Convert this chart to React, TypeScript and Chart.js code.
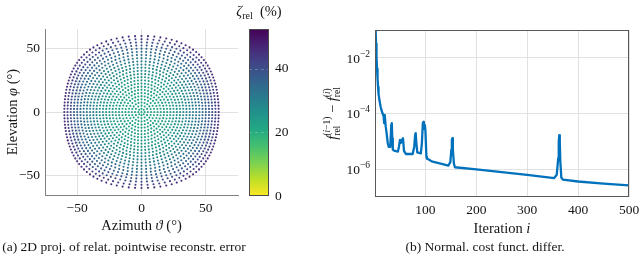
import React, { useEffect, useRef } from 'react';
import { Chart, registerables } from 'chart.js';

Chart.register(...registerables);

const SERIF = '"Liberation Serif", "DejaVu Serif", serif';
const TXT = '#151515';

// ---------- (a) sampling rings (polar angle around look direction), point count and error per ring
const ringPolarDeg = [0, 2.5, 5, 7.5, 10, 12.5, 15, 17.5, 20, 22.5, 25, 27.5, 30, 32.5, 35, 37.5, 40, 42.5, 45, 47.5, 50, 52.5, 55, 57.5, 60];
const ringPointCount = [1, 8, 12, 20, 24, 32, 36, 44, 48, 56, 60, 68, 72, 76, 84, 88, 92, 96, 100, 108, 112, 116, 120, 120, 124];
const ringErrorPct = [22.0, 22.0, 22.1, 22.2, 22.4, 22.6, 22.9, 23.2, 23.6, 24.1, 24.7, 25.4, 26.2, 27.1, 28.1, 29.2, 30.4, 31.7, 33.1, 34.6, 36.3, 38.2, 40.4, 43.0, 46.0];
const azimuthTicks = [-50, 0, 50];
const elevationTicks = [-50, 0, 50];
const colorbarTicks = [0, 20, 40];
const colorbarMax = 52.5;

// ---------- (b) normalized cost function difference per iteration
const iterations = [1, 2, 3, 4, 5, 6, 7, 8, 10, 12, 14, 16, 18, 19, 20, 22, 24, 26, 28, 31, 33, 34, 35, 36, 40, 46, 48, 50, 52, 54, 56, 58, 62, 75, 78, 80, 81, 82, 84, 91, 93, 95, 96, 97, 98, 99, 100, 102, 103, 114, 130, 145, 149, 151, 152, 153, 154, 156, 158, 200, 250, 300, 353, 358, 361, 362, 363, 364, 365, 367, 370, 400, 450, 500];
const costDiff = [1.0, 0.16, 0.032, 0.01, 4.0e-3, 1.8e-3, 8.9e-4, 5.0e-4, 2.8e-4, 1.8e-4, 1.26e-4, 1.0e-4, 7.9e-5, 4.5e-5, 8.9e-5, 3.5e-5, 1.8e-5, 8.9e-6, 6.3e-6, 6.3e-6, 4.0e-5, 4.5e-5, 1.26e-5, 5.0e-6, 4.5e-6, 4.3e-6, 6.3e-6, 1.12e-5, 8.9e-6, 1.12e-5, 1.29e-5, 4.5e-6, 3.5e-6, 3.5e-6, 6.3e-6, 1.8e-5, 1.95e-5, 1.0e-5, 4.0e-6, 3.7e-6, 7.9e-6, 4.5e-5, 5.0e-5, 3.5e-5, 2.8e-5, 3.8e-5, 2.5e-5, 2.8e-6, 2.4e-6, 1.86e-6, 1.58e-6, 1.35e-6, 1.78e-6, 5.0e-6, 1.12e-5, 1.29e-5, 5.0e-6, 1.58e-6, 1.17e-6, 9.8e-7, 7.8e-7, 6.2e-7, 4.8e-7, 6.3e-7, 2.5e-6, 1.0e-5, 1.66e-5, 1.0e-5, 2.0e-6, 5.0e-7, 4.2e-7, 3.6e-7, 3.0e-7, 2.6e-7];
const iterationTicks = [100, 200, 300, 400, 500];
const costDiffTicks = [1e-6, 1e-4, 1e-2];

const viridis = ['#440154', '#482475', '#414487', '#355f8d', '#2a788e', '#21918c', '#22a884', '#44bf70', '#7ad151', '#bddf26', '#fde725'];

function hexToRgb(h: string) {
  return [parseInt(h.slice(1, 3), 16), parseInt(h.slice(3, 5), 16), parseInt(h.slice(5, 7), 16)];
}
function viridisAt(t: number) {
  const tt = Math.max(0, Math.min(1, t)) * (viridis.length - 1);
  const i = Math.min(Math.floor(tt), viridis.length - 2);
  const f = tt - i;
  const a = hexToRgb(viridis[i]);
  const b = hexToRgb(viridis[i + 1]);
  const c = a.map((v, k) => Math.round(v + (b[k] - v) * f));
  return `rgb(${c[0]},${c[1]},${c[2]})`;
}
// reversed viridis: 0 -> yellow, max -> purple
function errColor(v: number) {
  return viridisAt(1 - v / colorbarMax);
}

type Run = { t: string; f: string; dy?: number };
type Piece = Run | { top: Run[]; bottom: Run[] };
const fnt = (size: number, italic = false) => `${italic ? 'italic ' : ''}${size}px ${SERIF}`;
const TS = 14.5; // title size

function runsWidth(ctx: CanvasRenderingContext2D, runs: Run[]) {
  let w = 0;
  for (const r of runs) {
    ctx.font = r.f;
    w += ctx.measureText(r.t).width;
  }
  return w;
}
function pieceWidth(ctx: CanvasRenderingContext2D, p: Piece) {
  if ('top' in p) return Math.max(runsWidth(ctx, p.top), runsWidth(ctx, p.bottom));
  return runsWidth(ctx, [p]);
}
function drawRuns(ctx: CanvasRenderingContext2D, runs: Run[], x: number, y: number) {
  for (const r of runs) {
    ctx.font = r.f;
    ctx.fillText(r.t, x, y + (r.dy || 0));
    x += ctx.measureText(r.t).width;
  }
}
function drawRich(ctx: CanvasRenderingContext2D, pieces: Piece[], x: number, y: number, align: 'left' | 'center' | 'right', rot = 0, shift = 4.8) {
  ctx.save();
  ctx.translate(x, y);
  if (rot) ctx.rotate(rot);
  ctx.fillStyle = TXT;
  ctx.textAlign = 'left';
  ctx.textBaseline = 'alphabetic';
  const ws = pieces.map((p) => pieceWidth(ctx, p));
  const total = ws.reduce((a, b) => a + b, 0);
  let cx = align === 'center' ? -total / 2 : align === 'right' ? -total : 0;
  pieces.forEach((p, i) => {
    if ('top' in p) {
      drawRuns(ctx, p.top, cx, shift);
      drawRuns(ctx, p.bottom, cx, shift);
    } else drawRuns(ctx, [p], cx, shift);
    cx += ws[i];
  });
  ctx.restore();
}

const minusFmt = (v: number) => (v < 0 ? '\u2212' + Math.abs(v) : String(v));
const tickFont = { family: SERIF, size: 13.5 };

export default function App() {
  const leftRef = useRef<HTMLCanvasElement>(null);
  const cbRef = useRef<HTMLCanvasElement>(null);
  const rightRef = useRef<HTMLCanvasElement>(null);

  useEffect(() => {
    const charts: Chart[] = [];

    // build sampling points
    const pts: { x: number; y: number }[] = [];
    const cols: string[] = [];
    ringPolarDeg.forEach((th, k) => {
      const n = ringPointCount[k];
      const thr = (th * Math.PI) / 180;
      for (let j = 0; j < n; j++) {
        const a = (2 * Math.PI * j) / n;
        const vx = Math.cos(thr);
        const vy = Math.sin(thr) * Math.cos(a);
        const vz = Math.sin(thr) * Math.sin(a);
        pts.push({ x: (Math.atan2(vy, vx) * 180) / Math.PI, y: (Math.asin(vz) * 180) / Math.PI });
        cols.push(errColor(ringErrorPct[k]));
      }
    });

    const leftTitles = {
      id: 'leftTitles',
      afterDraw(chart: any) {
        const { ctx, chartArea: ca } = chart;
        drawRich(ctx, [
          { t: 'Azimuth ', f: fnt(TS) },
          { t: '\u03D1', f: fnt(TS, true) },
          { t: ' (\u00B0)', f: fnt(TS) },
        ], (ca.left + ca.right) / 2, ca.bottom + 30.5, 'center');
        drawRich(ctx, [
          { t: 'Elevation ', f: fnt(TS) },
          { t: '\u03C6', f: fnt(TS, true) },
          { t: ' (\u00B0)', f: fnt(TS) },
        ], ca.left - 33, (ca.top + ca.bottom) / 2, 'center', -Math.PI / 2);
      },
    };

    if (leftRef.current) {
      charts.push(
        new Chart(leftRef.current, {
          type: 'scatter',
          data: {
            datasets: [
              {
                data: pts,
                pointBackgroundColor: cols,
                pointBorderWidth: 0,
                pointRadius: 1.05,
                pointHoverRadius: 1.05,
              },
            ],
          },
          options: {
            responsive: false,
            animation: false,
            events: [],
            layout: { padding: { left: 0, right: 7, top: 29, bottom: 0 } },
            plugins: { legend: { display: false }, tooltip: { enabled: false } },
            scales: {
              x: {
                type: 'linear',
                min: -75,
                max: 75,
                afterBuildTicks: (s: any) => {
                  s.ticks = azimuthTicks.map((v) => ({ value: v }));
                },
                afterFit: (s: any) => {
                  s.height = 66;
                  s.paddingLeft = 0;
                  s.paddingRight = 0;
                },
                grid: { color: '#dedede', lineWidth: 0.9, drawTicks: false },
                border: { color: '#808080', width: 1 },
                ticks: { padding: 5, color: TXT, font: tickFont, callback: (v: any) => minusFmt(Number(v)) },
              },
              y: {
                type: 'linear',
                min: -65.5,
                max: 65.5,
                afterBuildTicks: (s: any) => {
                  s.ticks = elevationTicks.map((v) => ({ value: v }));
                },
                afterFit: (s: any) => {
                  s.width = 45;
                  s.paddingTop = 0;
                  s.paddingBottom = 0;
                },
                grid: { color: '#dedede', lineWidth: 0.9, drawTicks: false },
                border: { color: '#808080', width: 1 },
                ticks: { padding: 5, color: TXT, font: tickFont, callback: (v: any) => minusFmt(Number(v)) },
              },
            },
          },
          plugins: [leftTitles],
        } as any)
      );
    }

    const cbPlugin = {
      id: 'cbPlugin',
      beforeDatasetsDraw(chart: any) {
        const { ctx, chartArea: ca } = chart;
        const ys = chart.scales.y;
        const y0 = ys.getPixelForValue(0);
        const y1 = ys.getPixelForValue(colorbarMax);
        const g = ctx.createLinearGradient(0, y0, 0, y1);
        for (let i = 0; i <= 20; i++) {
          const v = (colorbarMax * i) / 20;
          g.addColorStop(i / 20, errColor(v));
        }
        ctx.save();
        ctx.fillStyle = g;
        ctx.fillRect(ca.left, ca.top, ca.right - ca.left, ca.bottom - ca.top);
        ctx.strokeStyle = 'rgba(230,230,230,0.35)';
        ctx.lineWidth = 0.8;
        ctx.setLineDash([3, 3]);
        for (const v of colorbarTicks.slice(1)) {
          const y = Math.round(ys.getPixelForValue(v)) + 0.5;
          ctx.beginPath();
          ctx.moveTo(ca.left, y);
          ctx.lineTo(ca.right, y);
          ctx.stroke();
        }
        ctx.setLineDash([]);
        ctx.strokeStyle = '#4a4a4a';
        ctx.lineWidth = 1;
        ctx.strokeRect(Math.round(ca.left) + 0.5, Math.round(ca.top) + 0.5, Math.round(ca.right - ca.left) - 1, Math.round(ca.bottom - ca.top) - 1);
        ctx.restore();
        drawRich(ctx, [
          { t: '\u03B6', f: fnt(TS, true) },
          { t: 'rel', f: fnt(10), dy: 3 },
          { t: '  (%)', f: fnt(TS) },
        ], (ca.left + ca.right) / 2, 11, 'center');
      },
    };

    if (cbRef.current) {
      charts.push(
        new Chart(cbRef.current, {
          type: 'scatter',
          data: { datasets: [{ data: [] }] },
          options: {
            responsive: false,
            animation: false,
            events: [],
            layout: { padding: { left: 21, right: 0, top: 29, bottom: 65 } },
            plugins: { legend: { display: false }, tooltip: { enabled: false } },
            scales: {
              x: { type: 'linear', display: false, min: 0, max: 1 },
              y: {
                type: 'linear',
                position: 'right',
                min: 0,
                max: colorbarMax,
                afterBuildTicks: (s: any) => {
                  s.ticks = colorbarTicks.map((v) => ({ value: v }));
                },
                afterFit: (s: any) => {
                  s.width = 51;
                  s.paddingTop = 0;
                  s.paddingBottom = 0;
                },
                grid: { display: false, drawTicks: false },
                border: { display: false },
                ticks: { padding: 6, color: TXT, font: tickFont },
              },
            },
          },
          plugins: [cbPlugin],
        } as any)
      );
    }

    const rightPlugin = {
      id: 'rightPlugin',
      afterDraw(chart: any) {
        const { ctx, chartArea: ca } = chart;
        const ys = chart.scales.y;
        ctx.save();
        ctx.strokeStyle = '#595959';
        ctx.lineWidth = 1;
        ctx.strokeRect(Math.round(ca.left) + 0.5, Math.round(ca.top) + 0.5, Math.round(ca.right - ca.left) - 1, Math.round(ca.bottom - ca.top) - 1);
        ctx.restore();
        for (const v of costDiffTicks) {
          const e = Math.round(Math.log10(v));
          drawRich(ctx, [
            { t: '10', f: fnt(13.5) },
            { t: (e < 0 ? '\u2212' : '') + Math.abs(e), f: fnt(9.5), dy: -6 },
          ], ca.left - 5, ys.getPixelForValue(v), 'right');
        }
        drawRich(ctx, [
          { t: 'Iteration ', f: fnt(TS) },
          { t: 'i', f: fnt(TS, true) },
        ], (ca.left + ca.right) / 2, ca.bottom + 31, 'center');
        drawRich(ctx, [
          { t: 'f', f: fnt(TS, true) },
          {
            top: [
              { t: '(', f: fnt(9.5), dy: -6.5 },
              { t: 'i', f: fnt(9.5, true), dy: -6.5 },
              { t: '\u22121)', f: fnt(9.5), dy: -6.5 },
            ],
            bottom: [{ t: 'rel', f: fnt(9.5), dy: 3.5 }],
          },
          { t: ' \u2212 ', f: fnt(TS) },
          { t: 'f', f: fnt(TS, true) },
          {
            top: [
              { t: '(', f: fnt(9.5), dy: -6.5 },
              { t: 'i', f: fnt(9.5, true), dy: -6.5 },
              { t: ')', f: fnt(9.5), dy: -6.5 },
            ],
            bottom: [{ t: 'rel', f: fnt(9.5), dy: 3.5 }],
          },
        ], ca.left - 43, (ca.top + ca.bottom) / 2, 'center', -Math.PI / 2);
      },
    };

    if (rightRef.current) {
      charts.push(
        new Chart(rightRef.current, {
          type: 'line',
          data: {
            datasets: [
              {
                data: iterations.map((x, i) => ({ x, y: costDiff[i] })),
                borderColor: '#0072bd',
                borderWidth: 2.3,
                pointRadius: 0,
                tension: 0,
                fill: false,
                clip: 0,
                borderJoinStyle: 'round',
              },
            ],
          },
          options: {
            responsive: false,
            animation: false,
            events: [],
            layout: { padding: { left: 0, right: 11, top: 30, bottom: 0 } },
            plugins: { legend: { display: false }, tooltip: { enabled: false } },
            scales: {
              x: {
                type: 'linear',
                min: 1,
                max: 500,
                afterBuildTicks: (s: any) => {
                  s.ticks = iterationTicks.map((v) => ({ value: v }));
                },
                afterFit: (s: any) => {
                  s.height = 64;
                  s.paddingLeft = 0;
                  s.paddingRight = 0;
                },
                grid: { color: '#dedede', lineWidth: 0.9, drawTicks: false },
                border: { display: false },
                ticks: { padding: 5, color: TXT, font: tickFont, maxRotation: 0, autoSkip: false },
              },
              y: {
                type: 'logarithmic',
                min: 1e-7,
                max: 1e-1,
                afterBuildTicks: (s: any) => {
                  s.ticks = costDiffTicks.map((v) => ({ value: v }));
                },
                afterFit: (s: any) => {
                  s.width = 55;
                  s.paddingTop = 0;
                  s.paddingBottom = 0;
                },
                grid: { color: '#dedede', lineWidth: 0.9, drawTicks: false },
                border: { display: false },
                ticks: { padding: 5, color: TXT, font: tickFont, autoSkip: false, callback: () => '' },
              },
            },
          },
          plugins: [rightPlugin],
        } as any)
      );
    }

    return () => charts.forEach((c) => c.destroy());
  }, []);

  const cap: React.CSSProperties = {
    position: 'absolute',
    top: 239,
    whiteSpace: 'nowrap',
    transform: 'translateX(-50%)',
    font: `13.5px ${SERIF}`,
    lineHeight: '16px',
    color: TXT,
  };

  return (
    <div style={{ position: 'fixed', left: 0, top: 0, width: 640, height: 261, background: '#fff', overflow: 'hidden' }}>
      <canvas ref={leftRef} width={245} height={261} style={{ position: 'absolute', left: 0, top: 0, width: 245, height: 261 }} />
      <canvas ref={cbRef} width={92} height={261} style={{ position: 'absolute', left: 228, top: 0, width: 92, height: 261 }} />
      <canvas ref={rightRef} width={320} height={261} style={{ position: 'absolute', left: 320, top: 0, width: 320, height: 261 }} />
      <div style={{ ...cap, left: 124 }}>(a) 2D proj. of relat. pointwise reconstr. error</div>
      <div style={{ ...cap, left: 485 }}>(b) Normal. cost funct. differ.</div>
    </div>
  );
}
